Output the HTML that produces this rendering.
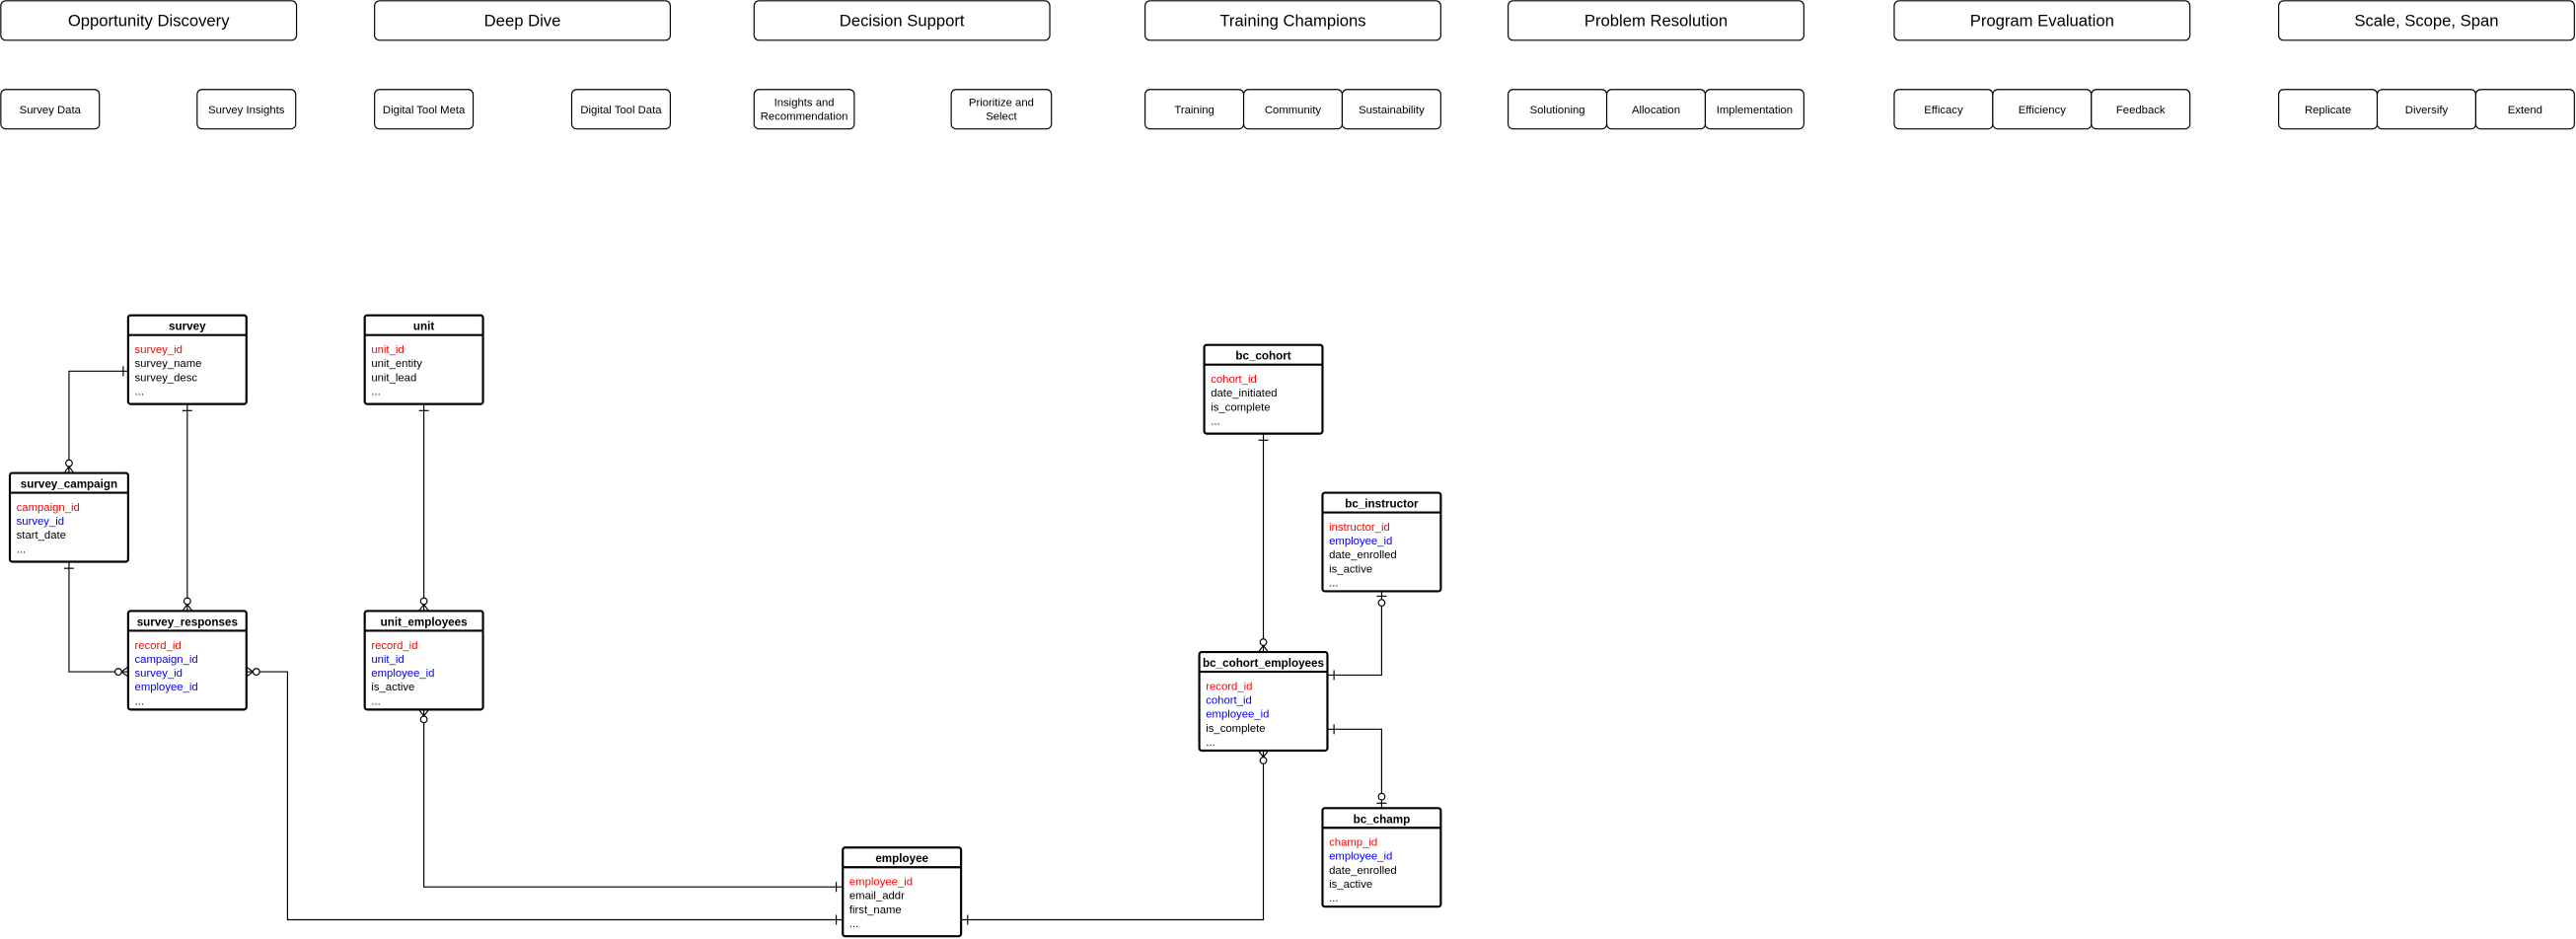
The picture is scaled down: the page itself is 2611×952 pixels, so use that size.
<!DOCTYPE html>
<html><head><meta charset="utf-8"><style>
html,body{margin:0;padding:0;background:#fff;}
svg{display:block;}
text{font-family:"Liberation Sans",Arial,sans-serif;}
.h{font-size:10px;text-anchor:middle;}
.s{font-size:6.8px;text-anchor:middle;}
.t{font-size:7px;font-weight:bold;text-anchor:middle;}
.r{font-size:6.8px;}
.red{fill:#ff0000}.blu{fill:#0000ff}
.bx{fill:#fff;stroke:#000;stroke-width:0.7}
.tb{fill:#fff;stroke:#000;stroke-width:1.3}
.ln{fill:none;stroke:#000;stroke-width:0.7}
.c{fill:#fff;stroke:#000;stroke-width:0.7}
</style></head><body>
<svg width="2611" height="952" viewBox="0 0 1568 571.7" preserveAspectRatio="none" xmlns="http://www.w3.org/2000/svg">
<!-- headers -->
<g>
<rect class="bx" x="0.5" y="0.5" width="180" height="24" rx="3"/><text class="h" x="90.5" y="16">Opportunity Discovery</text>
<rect class="bx" x="228" y="0.5" width="180" height="24" rx="3"/><text class="h" x="318" y="16">Deep Dive</text>
<rect class="bx" x="459" y="0.5" width="180" height="24" rx="3"/><text class="h" x="549" y="16">Decision Support</text>
<rect class="bx" x="697" y="0.5" width="180" height="24" rx="3"/><text class="h" x="787" y="16">Training Champions</text>
<rect class="bx" x="918" y="0.5" width="180" height="24" rx="3"/><text class="h" x="1008" y="16">Problem Resolution</text>
<rect class="bx" x="1153" y="0.5" width="180" height="24" rx="3"/><text class="h" x="1243" y="16">Program Evaluation</text>
<rect class="bx" x="1387" y="0.5" width="180" height="24" rx="3"/><text class="h" x="1477" y="16">Scale, Scope, Span</text>
</g>
<g>
<rect class="bx" x="0.5" y="54.5" width="60" height="24" rx="3"/><text class="s" x="30.5" y="69">Survey Data</text>
<rect class="bx" x="120" y="54.5" width="60" height="24" rx="3"/><text class="s" x="150" y="69">Survey Insights</text>
<rect class="bx" x="228" y="54.5" width="60" height="24" rx="3"/><text class="s" x="258" y="69">Digital Tool Meta</text>
<rect class="bx" x="348" y="54.5" width="60" height="24" rx="3"/><text class="s" x="378" y="69">Digital Tool Data</text>
<rect class="bx" x="459" y="54.5" width="61" height="24" rx="3"/><text class="s" x="489.5" y="64.5">Insights and</text><text class="s" x="489.5" y="73">Recommendation</text>
<rect class="bx" x="579" y="54.5" width="61" height="24" rx="3"/><text class="s" x="609.5" y="64.5">Prioritize and</text><text class="s" x="609.5" y="73">Select</text>
<rect class="bx" x="697" y="54.5" width="60" height="24" rx="3"/><text class="s" x="727" y="69">Training</text>
<rect class="bx" x="757" y="54.5" width="60" height="24" rx="3"/><text class="s" x="787" y="69">Community</text>
<rect class="bx" x="817" y="54.5" width="60" height="24" rx="3"/><text class="s" x="847" y="69">Sustainability</text>
<rect class="bx" x="918" y="54.5" width="60" height="24" rx="3"/><text class="s" x="948" y="69">Solutioning</text>
<rect class="bx" x="978" y="54.5" width="60" height="24" rx="3"/><text class="s" x="1008" y="69">Allocation</text>
<rect class="bx" x="1038" y="54.5" width="60" height="24" rx="3"/><text class="s" x="1068" y="69">Implementation</text>
<rect class="bx" x="1153" y="54.5" width="60" height="24" rx="3"/><text class="s" x="1183" y="69">Efficacy</text>
<rect class="bx" x="1213" y="54.5" width="60" height="24" rx="3"/><text class="s" x="1243" y="69">Efficiency</text>
<rect class="bx" x="1273" y="54.5" width="60" height="24" rx="3"/><text class="s" x="1303" y="69">Feedback</text>
<rect class="bx" x="1387" y="54.5" width="60" height="24" rx="3"/><text class="s" x="1417" y="69">Replicate</text>
<rect class="bx" x="1447" y="54.5" width="60" height="24" rx="3"/><text class="s" x="1477" y="69">Diversify</text>
<rect class="bx" x="1507" y="54.5" width="60" height="24" rx="3"/><text class="s" x="1537" y="69">Extend</text>
</g>

<!-- connectors -->
<g class="ln">
<polyline points="78,226 42,226 42,288"/>
<line x1="114" y1="246" x2="114" y2="372"/>
<line x1="258" y1="246" x2="258" y2="372"/>
<polyline points="42,342 42,409 78,409"/>
<polyline points="150,409 175,409 175,560 513,560"/>
<polyline points="258,432 258,540 513,540"/>
<polyline points="585,560 769,560 769,457"/>
<line x1="769" y1="264" x2="769" y2="397"/>
<polyline points="841,360 841,411 808,411"/>
<polyline points="808,444 841,444 841,492"/>
<!-- one ticks -->
<line x1="75" y1="223" x2="75" y2="229"/>
<line x1="111" y1="250" x2="117" y2="250"/>
<line x1="255" y1="250" x2="261" y2="250"/>
<line x1="39" y1="346" x2="45" y2="346"/>
<line x1="509" y1="537" x2="509" y2="543"/>
<line x1="509" y1="557" x2="509" y2="563"/>
<line x1="589" y1="557" x2="589" y2="563"/>
<line x1="766" y1="268" x2="772" y2="268"/>
<line x1="838" y1="363" x2="844" y2="363"/>
<line x1="812" y1="408" x2="812" y2="414"/>
<line x1="812" y1="441" x2="812" y2="447"/>
<line x1="838" y1="489" x2="844" y2="489"/>
<!-- crow's feet -->
<path d="M39,288 L42,284 L45,288 M42,284 L42,288"/>
<path d="M111,372 L114,368 L117,372"/>
<path d="M255,372 L258,368 L261,372"/>
<path d="M78,406 L74,409 L78,412"/>
<path d="M150,406 L154,409 L150,412"/>
<path d="M255,432 L258,436 L261,432"/>
<path d="M766,457 L769,461 L772,457"/>
<path d="M766,397 L769,393 L772,397"/>
</g>
<g>
<circle class="c" cx="42" cy="282" r="2"/>
<circle class="c" cx="114" cy="366" r="2"/>
<circle class="c" cx="258" cy="366" r="2"/>
<circle class="c" cx="72" cy="409" r="2"/>
<circle class="c" cx="156" cy="409" r="2"/>
<circle class="c" cx="258" cy="438" r="2"/>
<circle class="c" cx="769" cy="463" r="2"/>
<circle class="c" cx="769" cy="391" r="2"/>
<circle class="c" cx="841" cy="367" r="2"/>
<circle class="c" cx="841" cy="485" r="2"/>
</g>

<!-- tables -->
<g>
<rect class="tb" x="78" y="192" width="72" height="54" rx="1.5"/><line class="tb" x1="78" y1="204" x2="150" y2="204"/>
<text class="t" x="114" y="201">survey</text>
<text class="r red" x="82" y="215">survey_id</text><text class="r" x="82" y="223.5">survey_name</text><text class="r" x="82" y="232">survey_desc</text><text class="r" x="82" y="240.5">...</text>

<rect class="tb" x="222" y="192" width="72" height="54" rx="1.5"/><line class="tb" x1="222" y1="204" x2="294" y2="204"/>
<text class="t" x="258" y="201">unit</text>
<text class="r red" x="226" y="215">unit_id</text><text class="r" x="226" y="223.5">unit_entity</text><text class="r" x="226" y="232">unit_lead</text><text class="r" x="226" y="240.5">...</text>

<rect class="tb" x="6" y="288" width="72" height="54" rx="1.5"/><line class="tb" x1="6" y1="300" x2="78" y2="300"/>
<text class="t" x="42" y="297">survey_campaign</text>
<text class="r red" x="10" y="311">campaign_id</text><text class="r blu" x="10" y="319.5">survey_id</text><text class="r" x="10" y="328">start_date</text><text class="r" x="10" y="336.5">...</text>

<rect class="tb" x="78" y="372" width="72" height="60" rx="1.5"/><line class="tb" x1="78" y1="384" x2="150" y2="384"/>
<text class="t" x="114" y="381">survey_responses</text>
<text class="r red" x="82" y="395">record_id</text><text class="r blu" x="82" y="403.5">campaign_id</text><text class="r blu" x="82" y="412">survey_id</text><text class="r blu" x="82" y="420.5">employee_id</text><text class="r" x="82" y="429">...</text>

<rect class="tb" x="222" y="372" width="72" height="60" rx="1.5"/><line class="tb" x1="222" y1="384" x2="294" y2="384"/>
<text class="t" x="258" y="381">unit_employees</text>
<text class="r red" x="226" y="395">record_id</text><text class="r blu" x="226" y="403.5">unit_id</text><text class="r blu" x="226" y="412">employee_id</text><text class="r" x="226" y="420.5">is_active</text><text class="r" x="226" y="429">...</text>

<rect class="tb" x="513" y="516" width="72" height="54" rx="1.5"/><line class="tb" x1="513" y1="528" x2="585" y2="528"/>
<text class="t" x="549" y="525">employee</text>
<text class="r red" x="517" y="539">employee_id</text><text class="r" x="517" y="547.5">email_addr</text><text class="r" x="517" y="556">first_name</text><text class="r" x="517" y="564.5">...</text>

<rect class="tb" x="733" y="210" width="72" height="54" rx="1.5"/><line class="tb" x1="733" y1="222" x2="805" y2="222"/>
<text class="t" x="769" y="219">bc_cohort</text>
<text class="r red" x="737" y="233">cohort_id</text><text class="r" x="737" y="241.5">date_initiated</text><text class="r" x="737" y="250">is_complete</text><text class="r" x="737" y="258.5">...</text>

<rect class="tb" x="805" y="300" width="72" height="60" rx="1.5"/><line class="tb" x1="805" y1="312" x2="877" y2="312"/>
<text class="t" x="841" y="309">bc_instructor</text>
<text class="r red" x="809" y="323">instructor_id</text><text class="r blu" x="809" y="331.5">employee_id</text><text class="r" x="809" y="340">date_enrolled</text><text class="r" x="809" y="348.5">is_active</text><text class="r" x="809" y="357">...</text>

<rect class="tb" x="730" y="397" width="78" height="60" rx="1.5"/><line class="tb" x1="730" y1="409" x2="808" y2="409"/>
<text class="t" x="769" y="406">bc_cohort_employees</text>
<text class="r red" x="734" y="420">record_id</text><text class="r blu" x="734" y="428.5">cohort_id</text><text class="r blu" x="734" y="437">employee_id</text><text class="r" x="734" y="445.5">is_complete</text><text class="r" x="734" y="454">...</text>

<rect class="tb" x="805" y="492" width="72" height="60" rx="1.5"/><line class="tb" x1="805" y1="504" x2="877" y2="504"/>
<text class="t" x="841" y="501">bc_champ</text>
<text class="r red" x="809" y="515">champ_id</text><text class="r blu" x="809" y="523.5">employee_id</text><text class="r" x="809" y="532">date_enrolled</text><text class="r" x="809" y="540.5">is_active</text><text class="r" x="809" y="549">...</text>
</g>
</svg>
</body></html>
